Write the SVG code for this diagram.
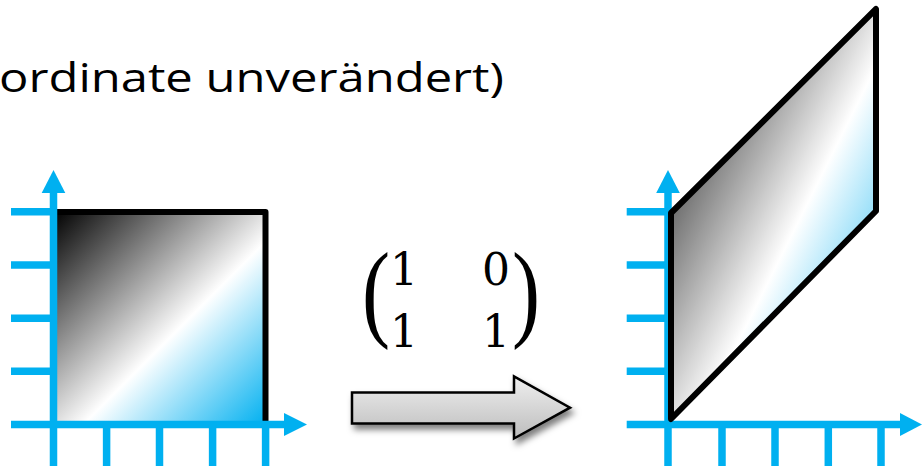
<svg xmlns="http://www.w3.org/2000/svg" width="922" height="466" viewBox="0 0 922 466">
  <style>
    .axis { stroke: #00B0F0; stroke-width: 7.5; fill: none; }
    .head { fill: #00B0F0; stroke: none; }
    .shape { stroke: #000; stroke-width: 6; stroke-linejoin: round; }
    .title { font-family: "Open Sans", Lato, "Liberation Sans", sans-serif; font-size: 40px; fill: #000; }
    .math { font-family: "DejaVu Serif", "Liberation Serif", serif; font-size: 44px; fill: #000; text-anchor: middle; }
    .paren { font-family: "Liberation Serif", "DejaVu Serif", serif; font-size: 108px; fill: #000; }
  </style>
  <defs>
    <linearGradient id="grad" x1="0" y1="0" x2="1" y2="1">
      <stop offset="0" stop-color="#000000"/>
      <stop offset="0.57" stop-color="#ffffff"/>
      <stop offset="1" stop-color="#00B0F0"/>
    </linearGradient>
    <linearGradient id="arrowGrad" x1="0" y1="0" x2="0" y2="1">
      <stop offset="0" stop-color="#efefef"/>
      <stop offset="1" stop-color="#bdbdbd"/>
    </linearGradient>
    <filter id="shadow" x="-20%" y="-40%" width="150%" height="190%">
      <feDropShadow dx="3" dy="5" stdDeviation="3" flood-color="#000" flood-opacity="0.5"/>
    </filter>
  </defs>

  <g id="title">
    <text class="title" x="-1" y="92" textLength="505" lengthAdjust="spacingAndGlyphs">ordinate unverändert)</text>
  </g>

  <g id="left-plot">
    <rect class="shape" x="53.5" y="212" width="212" height="212.5" fill="url(#grad)"/>
    <g id="left-axes">
      <line class="axis" x1="53.5" y1="190" x2="53.5" y2="466"/>
      <line class="axis" x1="11" y1="424.5" x2="287" y2="424.5"/>
      <polygon class="head" points="53.5,170 41.7,193 65.3,193"/>
      <polygon class="head" points="307,424.5 284,413 284,436"/>
      <line class="axis" x1="11" y1="211.7" x2="54" y2="211.7"/>
      <line class="axis" x1="11" y1="265" x2="54" y2="265"/>
      <line class="axis" x1="11" y1="318.3" x2="54" y2="318.3"/>
      <line class="axis" x1="11" y1="371.3" x2="54" y2="371.3"/>
      <line class="axis" x1="106.6" y1="424" x2="106.6" y2="466"/>
      <line class="axis" x1="159.5" y1="424" x2="159.5" y2="466"/>
      <line class="axis" x1="212.6" y1="424" x2="212.6" y2="466"/>
      <line class="axis" x1="265.6" y1="424" x2="265.6" y2="466"/>
    </g>
  </g>

  <g id="matrix">
    <text class="paren" x="0" y="0" transform="translate(362 327) scale(0.78 1)">(</text>
    <text class="paren" x="0" y="0" transform="translate(512 327) scale(0.78 1)">)</text>
    <text class="math" x="404" y="285">1</text>
    <text class="math" x="496" y="285">0</text>
    <text class="math" x="404" y="347">1</text>
    <text class="math" x="496" y="347">1</text>
  </g>

  <g id="connectors">
    <polygon points="352,392.5 514,392.5 514,376.5 570,407.7 514,438.5 514,423.5 352,423.5" fill="url(#arrowGrad)" stroke="#000" stroke-width="2.5" stroke-linejoin="miter" filter="url(#shadow)"/>
  </g>

  <g id="right-plot">
    <g id="right-axes">
      <line class="axis" x1="668" y1="190" x2="668" y2="466"/>
      <line class="axis" x1="626.7" y1="424.5" x2="902" y2="424.5"/>
      <polygon class="head" points="668,170 656.2,193 679.8,193"/>
      <polygon class="head" points="922,424.5 900,413 900,436"/>
      <line class="axis" x1="626.7" y1="211.7" x2="668" y2="211.7"/>
      <line class="axis" x1="626.7" y1="265" x2="668" y2="265"/>
      <line class="axis" x1="626.7" y1="318.3" x2="668" y2="318.3"/>
      <line class="axis" x1="626.7" y1="371.3" x2="668" y2="371.3"/>
      <line class="axis" x1="722" y1="424" x2="722" y2="466"/>
      <line class="axis" x1="775" y1="424" x2="775" y2="466"/>
      <line class="axis" x1="828.3" y1="424" x2="828.3" y2="466"/>
      <line class="axis" x1="881" y1="424" x2="881" y2="466"/>
    </g>
    <polygon class="shape" points="671,419 671,213 876,9 876,211" fill="url(#grad)"/>
  </g>
</svg>
